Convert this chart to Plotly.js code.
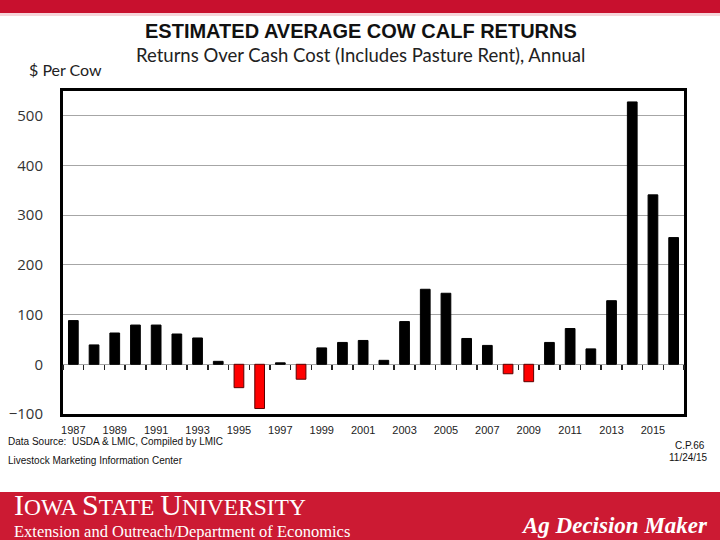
<!DOCTYPE html>
<html>
<head>
<meta charset="utf-8">
<script src="https://cdn.plot.ly/plotly-3.0.1.min.js"></script>
<style>html,body{margin:0;padding:0;background:#fff;}#chart{width:720px;height:540px;}</style>
</head>
<body>
<div id="chart"></div>
<script>
// ---- data ----
const years = ['1987','1988','1989','1990','1991','1992','1993','1994','1995','1996','1997','1998','1999','2000','2001','2002','2003','2004','2005','2006','2007','2008','2009','2010','2011','2012','2013','2014','2015','2016'];
const returns = [88,39,63,79,79,61,53,6,-47,-89,3,-30,33,44,48,8,86,151,143,52,38,-19,-35,44,72,31,128,528,341,255];
const tickLabels = ['1987','1989','1991','1993','1995','1997','1999','2001','2003','2005','2007','2009','2011','2013','2015'];
const yTicks = [-100,0,100,200,300,400,500];

// ---- layout helpers (pixel -> paper) ----
const L = 63, R = 684, T = 91, B = 414;
const W = 720, H = 540;
const px = x => (x - L) / (R - L);
const py = y => (B - y) / (B - T);

const yMin = -100, yMax = 550;
const zeroPos = (0 - yMin) / (yMax - yMin);

const colors = returns.map(v => v < 0 ? '#ff0000' : '#000000');
const lineColors = returns.map(v => v < 0 ? '#5a0000' : '#000000');

const bars = {
  type: 'bar',
  x: years,
  y: returns,
  marker: {color: colors, line: {color: lineColors, width: 1}},
  xaxis: 'x',
  yaxis: 'y',
  hoverinfo: 'x+y'
};
// carrier so the zero-line tick axis renders (draws nothing)
const zeroAxisCarrier = {
  type: 'scatter', mode: 'markers',
  x: years, y: years.map(() => null),
  xaxis: 'x2', yaxis: 'y',
  hoverinfo: 'skip', showlegend: false
};

const serif = 'Liberation Serif, DejaVu Serif, serif';
const narrow = 'Liberation Sans Narrow, Liberation Sans, Arial';

const layout = {
  width: W, height: H,
  margin: {l: L, r: W - R, t: T, b: H - B, pad: 0},
  paper_bgcolor: '#ffffff',
  plot_bgcolor: '#ffffff',
  showlegend: false,
  bargap: 0.53,
  xaxis: {
    type: 'category',
    categoryarray: years,
    range: [-0.5, years.length - 0.5],
    anchor: 'y',
    side: 'bottom',
    tickmode: 'array',
    tickvals: tickLabels,
    ticktext: tickLabels,
    ticks: 'outside',
    ticklen: 4,
    tickcolor: 'rgba(0,0,0,0)',
    showgrid: false,
    zeroline: false,
    showline: true,
    mirror: true,
    linecolor: '#000',
    linewidth: 3,
    tickfont: {family: narrow, size: 11, color: '#222'},
    fixedrange: true
  },
  xaxis2: {
    type: 'category',
    categoryarray: years,
    range: [-0.5, years.length - 0.5],
    overlaying: 'x',
    anchor: 'free',
    position: zeroPos,
    side: 'bottom',
    showline: false,
    ticks: 'outside',
    tickson: 'boundaries',
    ticklen: 5,
    tickwidth: 1.5,
    tickcolor: '#222',
    showticklabels: false,
    showgrid: false,
    zeroline: false,
    fixedrange: true
  },
  yaxis: {
    range: [yMin, yMax],
    tickmode: 'array',
    tickvals: yTicks,
    ticks: 'outside',
    ticklen: 14,
    tickcolor: 'rgba(0,0,0,0)',
    showgrid: true,
    gridcolor: '#a6a6a6',
    gridwidth: 1,
    zeroline: true,
    zerolinecolor: '#a6a6a6',
    zerolinewidth: 1,
    showline: true,
    mirror: true,
    linecolor: '#000',
    linewidth: 3,
    tickfont: {family: 'Open Sans, Noto Sans, Arial', size: 15, color: '#333'},
    fixedrange: true
  },
  shapes: [
    {type: 'rect', xref: 'paper', yref: 'paper', x0: px(0), x1: px(W), y0: py(13), y1: py(0), fillcolor: '#c8102e', line: {width: 0}, layer: 'above'},
    {type: 'rect', xref: 'paper', yref: 'paper', x0: px(0), x1: px(W), y0: py(16), y1: py(13), fillcolor: '#f6d5da', line: {width: 0}, layer: 'above'},
    {type: 'rect', xref: 'paper', yref: 'paper', x0: px(0), x1: px(W), y0: py(H), y1: py(492), fillcolor: '#cc1a33', line: {width: 0}, layer: 'above'}
  ],
  annotations: [
    {text: '<b>ESTIMATED AVERAGE COW CALF RETURNS</b>', xref: 'paper', yref: 'paper', x: px(361), y: py(31), xanchor: 'center', yanchor: 'middle', showarrow: false,
     font: {family: narrow, size: 20, color: '#111'}},
    {text: 'Returns Over Cash Cost (Includes Pasture Rent), Annual', xref: 'paper', yref: 'paper', x: px(360), y: py(55), xanchor: 'center', yanchor: 'middle', showarrow: false,
     font: {family: 'Lato, Open Sans, Arial', size: 18.5, color: '#222'}},
    {text: '$ Per Cow', xref: 'paper', yref: 'paper', x: px(27), y: py(70), xanchor: 'left', yanchor: 'middle', showarrow: false,
     font: {family: 'Lato, Open Sans, Arial', size: 16, color: '#222'}},
    {text: 'Data Source:  USDA & LMIC, Compiled by LMIC', xref: 'paper', yref: 'paper', x: px(6), y: py(441), xanchor: 'left', yanchor: 'middle', showarrow: false,
     font: {family: narrow, size: 10, color: '#111'}},
    {text: 'Livestock Marketing Information Center', xref: 'paper', yref: 'paper', x: px(6), y: py(460), xanchor: 'left', yanchor: 'middle', showarrow: false,
     font: {family: narrow, size: 10, color: '#111'}},
    {text: 'C.P.66', xref: 'paper', yref: 'paper', x: px(707), y: py(445), xanchor: 'right', yanchor: 'middle', showarrow: false,
     font: {family: narrow, size: 10, color: '#111'}},
    {text: '11/24/15', xref: 'paper', yref: 'paper', x: px(710), y: py(457), xanchor: 'right', yanchor: 'middle', showarrow: false,
     font: {family: narrow, size: 10, color: '#111'}},
    {text: '<span style="font-size:30px">I</span>OWA <span style="font-size:30px">S</span>TATE <span style="font-size:30px">U</span>NIVERSITY', xref: 'paper', yref: 'paper', x: px(12), y: py(504), xanchor: 'left', yanchor: 'middle', showarrow: false,
     font: {family: serif, size: 23.5, color: '#ffffff'}},
    {text: 'Extension and Outreach/Department of Economics', xref: 'paper', yref: 'paper', x: px(12), y: py(531), xanchor: 'left', yanchor: 'middle', showarrow: false,
     font: {family: serif, size: 16.5, color: '#ffffff'}},
    {text: '<b><i>Ag Decision Maker</i></b>', xref: 'paper', yref: 'paper', x: px(710), y: py(525), xanchor: 'right', yanchor: 'middle', showarrow: false,
     font: {family: serif, size: 23, color: '#ffffff'}}
  ]
};

Plotly.newPlot('chart', [bars, zeroAxisCarrier], layout, {displayModeBar: false, staticPlot: true});
</script>
</body>
</html>
